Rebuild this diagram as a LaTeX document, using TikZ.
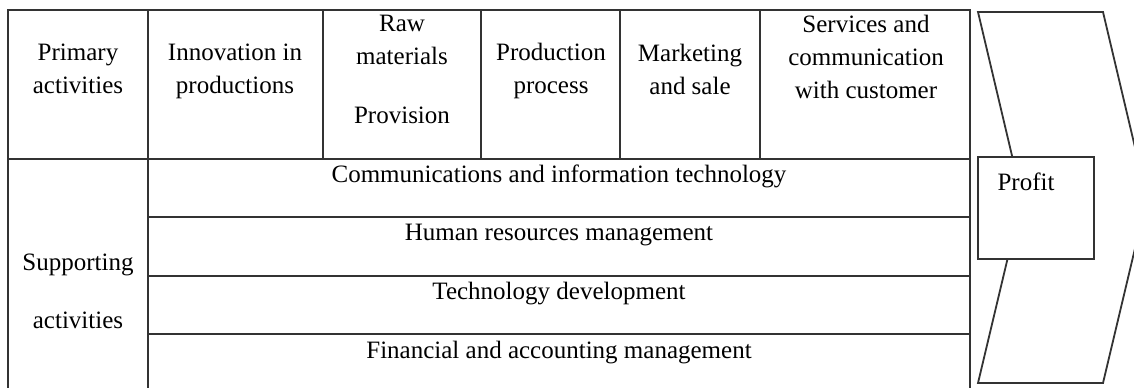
\documentclass[tikz,border=0pt]{standalone}
\usepackage{fontspec}
\setmainfont{Liberation Serif}

\tikzstyle{wired}=[draw=black!80, line width=0.9pt]
\tikzstyle{cellText}=[align=center, inner sep=0pt, font=\fontsize{12.5}{16.5}\selectfont]

\begin{document}
\begin{tikzpicture}[x=0.5pt,y=-0.5pt]
\useasboundingbox (0,0) rectangle (1134,387);
\clip (0,0) rectangle (1134,387);
\pgfmathsetmacro{\tabLeft}{8}
\pgfmathsetmacro{\tabRight}{970}
\pgfmathsetmacro{\tabTop}{10}
\pgfmathsetmacro{\tabMiddle}{159}
\pgfmathsetmacro{\tabBottom}{392}
\pgfmathsetmacro{\subCol}{148}

% chevron of the margin, the profit box sits on top of it
\filldraw[wired, fill=white]
    (978,12) -- (1103,12) -- (1147,198) -- (1103,383) -- (978,383) -- (1022,198) -- cycle;
\filldraw[wired, fill=white] (978,157) rectangle (1094,259);

% table frame
\draw[wired] (\tabLeft,\tabBottom) -- (\tabLeft,\tabTop) -- (\tabRight,\tabTop) -- (\tabRight,\tabBottom);
\draw[wired] (\tabLeft,\tabMiddle) -- (\tabRight,\tabMiddle);
\draw[wired] (\subCol,\tabMiddle) -- (\subCol,\tabBottom);
\foreach\x in {148,323,481,620,760} {
    \draw[wired] (\x,\tabTop) -- (\x,\tabMiddle);
}
\foreach\y in {217,276,334} {
    \draw[wired] (\subCol,\y) -- (\tabRight,\y);
}

% primary activities
\node[cellText] (primary) at (78,69) {Primary\\activities};
\node[cellText] (innovation) at (235,71) {Innovation in\\productions};
\node[cellText] (raw) at (402,40) {Raw\\materials};
\node[cellText] (provision) at (402,115) {Provision};
\node[cellText] (production) at (551,71) {Production\\process};
\node[cellText] (marketing) at (690,69) {Marketing\\and sale};
\node[cellText] (services) at (866,57) {Services and\\communication\\with customer};

% supporting activities
\node[cellText] (supporting) at (78,265) {Supporting};
\node[cellText] (supportingB) at (78,320) {activities};
\node[cellText] (comm) at (559,176) {Communications and information technology};
\node[cellText] (human) at (559,235) {Human resources management};
\node[cellText] (techdev) at (559,294) {Technology development};
\node[cellText] (finance) at (559,353) {Financial and accounting management};

\node[cellText] (profit) at (1026,182) {Profit};
\end{tikzpicture}
\end{document}
